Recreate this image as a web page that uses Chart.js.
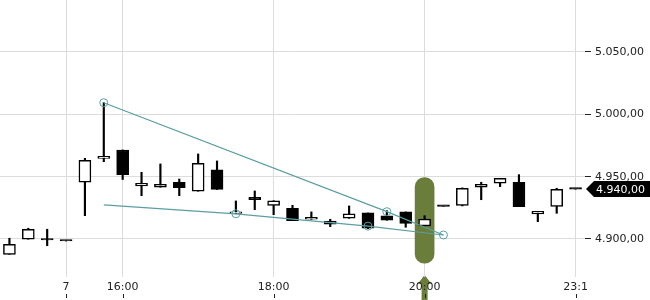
<!DOCTYPE html>
<html>
<head>
<meta charset="utf-8">
<script src="https://cdn.jsdelivr.net/npm/chart.js@4.4.1/dist/chart.umd.min.js"></script>
<style>
  html, body { margin: 0; padding: 0; background: #fff; }
  #wrap { width: 650px; height: 300px; position: relative; }
</style>
</head>
<body>
<div id="wrap"><canvas id="chart"></canvas></div>
<script>
// 15 minute candles
var times = ['14:30', '14:45', '15:00', '15:15', '15:30', '15:45', '16:00', '16:15', '16:30', '16:45',
	'17:00', '17:15', '17:30', '17:45', '18:00', '18:15', '18:30', '18:45', '19:00', '19:15',
	'19:30', '19:45', '20:00', '20:15', '20:30', '20:45', '21:00', '21:15', '21:30', '21:45', '23:15'];
var tickText = ['', '', '', '7', '', '', '16:00', '', '', '', '', '', '', '', '18:00', '', '', '', '', '', '', '',
	'20:00', '', '', '', '', '', '', '', '23:1'];

var opens = [4887.7, 4899.8, 4899.2, 4898.4, 4945.5, 4964.7, 4971.4, 4942.5, 4941.5, 4945.5, 4938.3, 4955.4, 4920.6,
	4933.5, 4927.0, 4924.6, 4915.8, 4911.8, 4916.6, 4920.9, 4918.5, 4921.7, 4910.4, 4926.2, 4927.0, 4941.5,
	4944.7, 4945.5, 4920.1, 4926.2, 4940.0];
var closes = [4895.7, 4907.8, 4899.2, 4898.4, 4963.1, 4966.3, 4951.6, 4944.7, 4943.9, 4941.2, 4960.7, 4939.7, 4921.2,
	4931.5, 4930.7, 4914.7, 4917.4, 4914.4, 4920.1, 4908.6, 4915.0, 4912.4, 4916.0, 4926.2, 4940.7, 4943.9,
	4948.7, 4925.9, 4922.2, 4939.9, 4940.0];
var highs = [4900.6, 4908.6, 4907.8, 4898.4, 4964.7, 5009.3, 4971.4, 4953.5, 4960.2, 4948.1, 4968.2, 4962.6, 4930.5,
	4938.5, 4930.7, 4927.0, 4921.7, 4915.8, 4926.5, 4920.9, 4922.7, 4921.7, 4918.7, 4926.2, 4941.0, 4945.5,
	4948.7, 4951.6, 4922.2, 4940.7, 4940.0];
var lows = [4887.7, 4899.8, 4894.6, 4898.4, 4918.7, 4962.0, 4947.7, 4934.7, 4941.5, 4934.7, 4938.3, 4939.7, 4920.2,
	4923.5, 4919.5, 4914.7, 4915.8, 4909.9, 4916.6, 4908.3, 4915.0, 4909.4, 4910.4, 4926.2, 4926.5, 4931.5,
	4942.0, 4925.9, 4913.9, 4920.6, 4940.0];

// trend lines (drawn points)
var upperLine = [null, null, null, null, null, 5009.3, null, null, null, null, null, null, null, null, null, null,
	null, null, null, null, 4921.9, null, null, 4903.2, null, null, null, null, null, null, null];
var lowerLine = [null, null, null, null, null, 4927.3, null, null, null, null, null, null, 4920.2, null, null, null,
	null, null, null, 4910.3, null, null, null, 4903.2, null, null, null, null, null, null, null];
var upperMarks = [5, 20, 23];
var lowerMarks = [12, 19];

// marker at 20:00
var markerIndex = 22;
var markerRange = [4880.5, 4949.2];

var yTicks = [4900, 4950, 5000, 5050];
var lastPrice = 4940;

var teal = '#5a9ea2';
var olive = '#6b7d3a';

function fmt(v) {
	var parts = v.toFixed(2).split('.');
	var int = parts[0].replace(/\B(?=(\d{3})+(?!\d))/g, '.');
	return int + ',' + parts[1];
}

var bodies = opens.map(function (o, i) { return [o, closes[i]]; });
var wicks = lows.map(function (l, i) { return [l, highs[i]]; });
var marker = times.map(function (t, i) { return i === markerIndex ? markerRange : null; });

Chart.defaults.font.family = "'DejaVu Sans', sans-serif";
Chart.defaults.font.size = 11;
Chart.defaults.color = '#222';

var overlay = {
	id: 'overlay',
	beforeDraw: function (chart) {
		// green arrow under the 20:00 label
		var ctx = chart.ctx;
		var x = chart.scales.x.getPixelForValue(markerIndex);
		ctx.save();
		ctx.fillStyle = olive;
		ctx.beginPath();
		ctx.moveTo(x, 275);
		ctx.lineTo(x + 7, 284);
		ctx.lineTo(x + 3, 284);
		ctx.lineTo(x + 3, 300);
		ctx.lineTo(x - 3, 300);
		ctx.lineTo(x - 3, 284);
		ctx.lineTo(x - 7, 284);
		ctx.closePath();
		ctx.fill();
		ctx.restore();
	},
	afterDraw: function (chart) {
		var ctx = chart.ctx;
		var xs = chart.scales.x;
		var ys = chart.scales.y;
		ctx.save();
		// little tick marks under the time labels
		ctx.strokeStyle = '#222';
		ctx.lineWidth = 1;
		tickText.forEach(function (t, i) {
			if (!t) return;
			var x = Math.round(xs.getPixelForValue(i)) + 0.5;
			ctx.beginPath();
			ctx.moveTo(x, 294);
			ctx.lineTo(x, 298);
			ctx.stroke();
		});
		// current price tag
		var y = Math.round(ys.getPixelForValue(lastPrice));
		var left = chart.chartArea.right;
		ctx.fillStyle = '#000';
		ctx.beginPath();
		ctx.moveTo(left + 1, y);
		ctx.lineTo(left + 9, y - 8);
		ctx.lineTo(chart.width, y - 8);
		ctx.lineTo(chart.width, y + 8);
		ctx.lineTo(left + 9, y + 8);
		ctx.closePath();
		ctx.fill();
		ctx.fillStyle = '#fff';
		ctx.textBaseline = 'middle';
		ctx.textAlign = 'left';
		ctx.font = "11px 'DejaVu Sans'";
		ctx.fillText(fmt(lastPrice), left + 11, y + 1);
		ctx.restore();
	}
};

new Chart(document.getElementById('chart'), {
	type: 'bar',
	data: {
		labels: times,
		datasets: [{
			type: 'line',
			data: upperLine,
			spanGaps: true,
			borderColor: teal,
			borderWidth: 1.2,
			pointRadius: function (c) { return upperMarks.indexOf(c.dataIndex) >= 0 ? 4 : 0; },
			pointBackgroundColor: 'rgba(255,255,255,0)',
			pointBorderColor: teal,
			pointBorderWidth: 1,
			order: -2
		}, {
			type: 'line',
			data: lowerLine,
			spanGaps: true,
			borderColor: teal,
			borderWidth: 1.2,
			pointRadius: function (c) { return lowerMarks.indexOf(c.dataIndex) >= 0 ? 4 : 0; },
			pointBackgroundColor: 'rgba(255,255,255,0)',
			pointBorderColor: teal,
			pointBorderWidth: 1,
			order: -1
		}, {
			data: bodies,
			grouped: false,
			barThickness: 12,
			minBarLength: 1.5,
			// down and flat candles filled black
			backgroundColor: opens.map(function (o, i) { return closes[i] <= o ? '#000' : '#fff'; }),
			borderColor: '#000',
			borderWidth: 1.5,
			borderSkipped: false,
			order: 0
		}, {
			data: wicks,
			grouped: false,
			barThickness: 1.5,
			backgroundColor: '#000',
			borderWidth: 0,
			order: 1
		}, {
			data: marker,
			grouped: false,
			barThickness: 19,
			backgroundColor: olive,
			borderWidth: 0,
			borderRadius: 10,
			borderSkipped: false,
			order: 2
		}]
	},
	options: {
		responsive: true,
		maintainAspectRatio: false,
		animation: false,
		layout: { padding: 0 },
		plugins: {
			legend: { display: false },
			tooltip: { enabled: false }
		},
		scales: {
			x: {
				offset: true,
				border: { display: false },
				grid: {
					offset: false,
					drawTicks: false,
					color: function (c) { return tickText[c.index] ? '#dcdcdc' : 'rgba(0,0,0,0)'; }
				},
				ticks: {
					autoSkip: false,
					maxRotation: 0,
					padding: 4,
					callback: function (v, i) { return tickText[i]; }
				},
				afterFit: function (s) {
					s.height = 23;
					s.paddingLeft = 0;
					s.paddingRight = 0;
				}
			},
			y: {
				position: 'right',
				min: 4869.5,
				max: 5091.7,
				border: { display: false },
				grid: {
					color: '#dcdcdc',
					tickColor: '#222',
					tickLength: 6
				},
				ticks: {
					padding: 4,
					callback: function (v) { return fmt(v); }
				},
				afterBuildTicks: function (s) {
					s.ticks = yTicks.map(function (v) { return { value: v }; });
				},
				afterFit: function (s) {
					s.width = 65;
					s.paddingTop = 0;
					s.paddingBottom = 0;
				}
			}
		}
	},
	plugins: [overlay]
});
</script>
</body>
</html>
